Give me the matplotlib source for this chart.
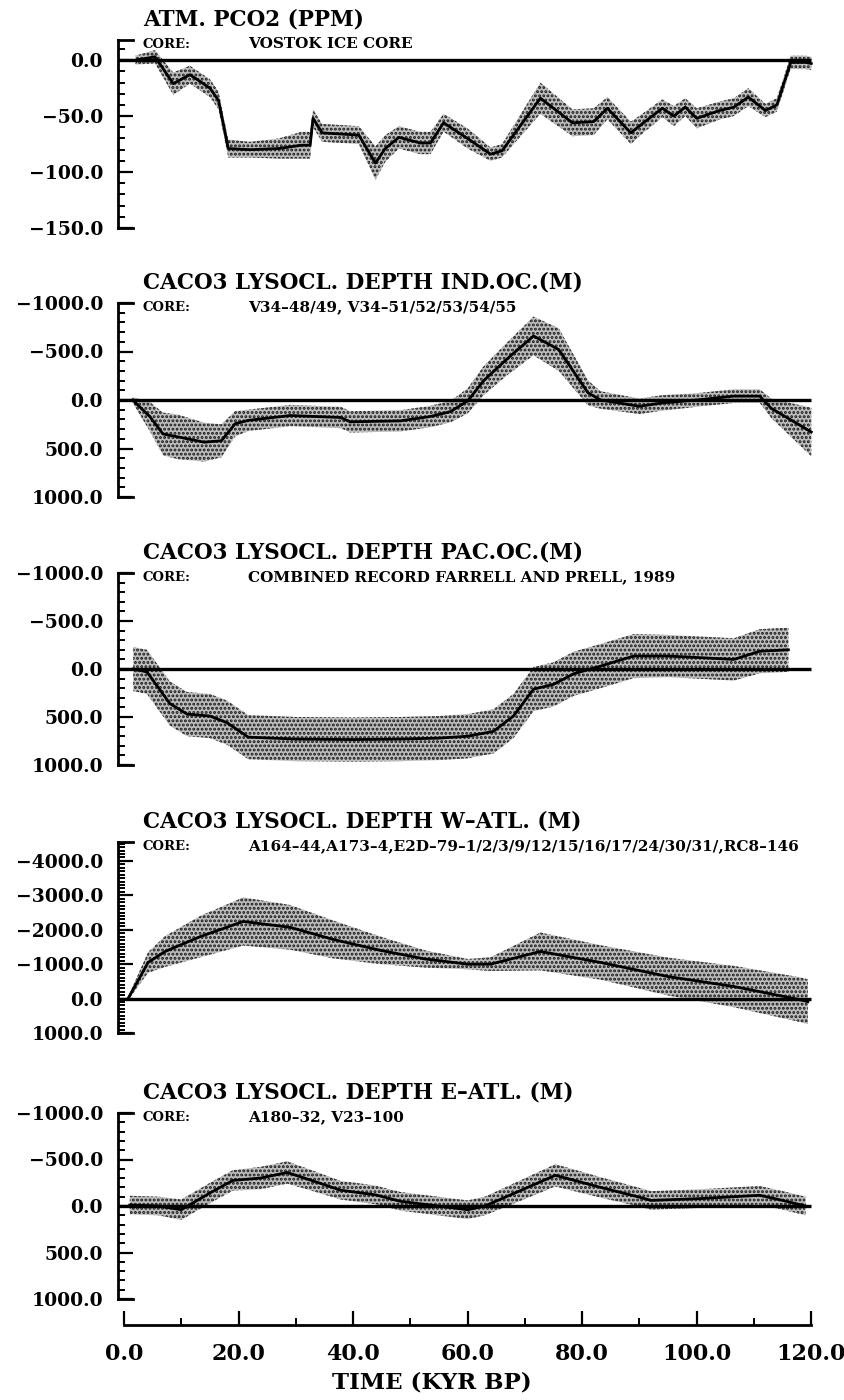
import numpy as np
import matplotlib
matplotlib.use("Agg")
import matplotlib.pyplot as plt
from matplotlib.ticker import MultipleLocator, FuncFormatter

plt.rcParams["font.family"] = ["DejaVu Serif"]
plt.rcParams["hatch.linewidth"] = 1.4

# --- data ----------------------------------------------------------------
# panel 1: atmospheric pCO2 anomaly (ppm)
t_co2 = [2, 5.4, 8.6, 11.5, 15, 16.5, 18.2, 22, 27, 31, 32.5, 33, 34.6, 41, 43.9,
         45.6, 48, 51.7, 53.5, 55.8, 60, 64, 66, 72.7, 78.3, 82, 84.4, 88.5, 90.2,
         94, 96, 98, 100, 104, 106.5, 109, 112, 114, 116.4, 119, 120]
v_co2 = [0, 3, -21, -13, -25, -36, -79, -80, -79, -76, -76, -52, -65, -67, -92,
         -79, -69, -74, -74, -56, -70, -84, -81, -34, -56, -55, -43, -65, -58,
         -43, -50, -42, -52, -45, -42, -33, -45, -40, -2, -2, -3]
e_co2 = [4, 6, 10, 8, 8, 8, 8, 7, 9, 12, 12, 8, 8, 8, 15,
         12, 10, 10, 10, 8, 9, 6, 6, 14, 12, 12, 10, 10, 9,
         8, 9, 8, 9, 8, 8, 8, 6, 6, 6, 6, 6]

# panel 2: lysocline depth, Indian Ocean (m)
t_ind = [1.5, 4.5, 6.8, 9.4, 14, 17, 19.4, 21.7, 29, 37.8, 39.5, 48.3, 53.5, 57,
         60, 62.8, 67, 71.5, 75.9, 81, 83.2, 90, 94, 100, 106.5, 111, 113, 120]
v_ind = [0, 170, 350, 380, 435, 420, 245, 210, 160, 180, 225, 215, 170, 120,
         10, -200, -430, -660, -520, -75, 0, 65, 30, 0, -40, -40, 85, 330]
e_ind = [30, 150, 220, 230, 200, 170, 130, 110, 110, 110, 110, 110, 110, 110,
         130, 150, 170, 200, 220, 130, 90, 80, 80, 70, 70, 70, 100, 250]

# panel 3: lysocline depth, Pacific (m)
t_pac = [1.6, 4, 8, 11, 15, 18, 21.7, 30, 40, 48.3, 55, 60, 64.5, 68, 71.5, 75,
         78.5, 83.2, 89, 95, 100, 106.5, 111, 116]
v_pac = [0, 30, 360, 470, 490, 560, 710, 730, 735, 730, 720, 700, 650, 490, 210,
         160, 50, -30, -135, -135, -120, -100, -185, -200]
e_pac = [230, 230, 230, 230, 230, 230, 230, 230, 230, 230, 230, 230, 230, 230,
         230, 230, 230, 230, 230, 220, 220, 220, 230, 230]

# panel 4: lysocline depth, western Atlantic (m)
t_watl = [0.7, 4.2, 7.2, 13.3, 20.8, 29, 36.5, 44.8, 52.6, 60, 64, 72.7, 83.2,
          95, 106.5, 118, 119.4]
v_watl = [0, -1050, -1370, -1800, -2240, -2070, -1720, -1400, -1150, -1000,
          -1000, -1370, -1050, -640, -350, 30, 90]
e_watl = [50, 300, 450, 600, 700, 650, 550, 400, 250, 150, 200, 550, 500, 550,
          600, 650, 650]

# panel 5: lysocline depth, eastern Atlantic (m)
t_eatl = [1, 6, 10, 15, 19, 23.8, 28.5, 33, 37.8, 43.9, 48.3, 53.5, 60, 63, 69,
          75.3, 83.2, 90, 92, 100.7, 105, 111, 115, 119]
v_eatl = [-10, 0, 40, -140, -275, -300, -360, -270, -170, -120, -50, -10, 40, 0,
          -160, -330, -200, -95, -60, -80, -95, -115, -60, 0]
e_eatl = [100, 100, 110, 110, 110, 120, 120, 110, 100, 100, 100, 100, 100, 100,
          110, 120, 110, 100, 100, 100, 100, 100, 100, 100]

titles = ["ATM. PCO2 (PPM)",
          "CACO3 LYSOCL. DEPTH IND.OC.(M)",
          "CACO3 LYSOCL. DEPTH PAC.OC.(M)",
          "CACO3 LYSOCL. DEPTH W\u2013ATL. (M)",
          "CACO3 LYSOCL. DEPTH E\u2013ATL. (M)"]
cores = ["VOSTOK ICE CORE",
         "V34\u201348/49, V34\u201351/52/53/54/55",
         "COMBINED RECORD FARRELL AND PRELL, 1989",
         "A164\u201344,A173\u20134,E2D\u201379\u20131/2/3/9/12/15/16/17/24/30/31/,RC8\u2013146",
         "A180\u201332, V23\u2013100"]

series = [(t_co2, v_co2, e_co2), (t_ind, v_ind, e_ind), (t_pac, v_pac, e_pac),
          (t_watl, v_watl, e_watl), (t_eatl, v_eatl, e_eatl)]

# layout: (top px, bottom px, ylim, major step, minor step)
W, H = 845, 1400
panels = [
    (40, 228, (-150, 18), 50, 10),
    (303, 497, (1000, -1000), 500, 100),
    (573, 765, (1000, -1000), 500, 100),
    (842, 1033, (1000, -4550), 1000, 100),
    (1113, 1299, (1000, -1000), 500, 100),
]
x0_px, x1_px = 118.3, 817.0
XLIM = (-1, 121)

fmt = FuncFormatter(lambda v, pos: f"{v:.1f}".replace("-", "\u2212"))

fig = plt.figure(figsize=(W / 100, H / 100), dpi=100)


def px_rect(top, bottom):
    return [x0_px / W, 1 - bottom / H, (x1_px - x0_px) / W, (bottom - top) / H]


for (top, bottom, ylim, major, minor), (t, v, e), title, core in zip(
        panels, series, titles, cores):
    ax = fig.add_axes(px_rect(top, bottom))
    t, v, e = np.array(t), np.array(v), np.array(e)
    ax.fill_between(t, v - e, v + e, facecolor="#bdbdbd", edgecolor="#1a1a1a",
                    hatch="....", linewidth=0, zorder=1)
    ax.plot(t, v, color="black", lw=2, zorder=3)
    ax.hlines(0, XLIM[0], 120, color="black", lw=2.4, zorder=2)

    ax.set_xlim(*XLIM)
    ax.set_ylim(*ylim)
    for s in ["top", "right", "bottom"]:
        ax.spines[s].set_visible(False)
    ax.spines["left"].set_linewidth(2)
    ax.set_xticks([])
    ax.yaxis.set_major_locator(MultipleLocator(major))
    ax.yaxis.set_minor_locator(MultipleLocator(minor))
    ax.yaxis.set_major_formatter(fmt)
    ax.tick_params(axis="y", which="major", direction="in", length=11, width=1.6,
                   pad=11, labelsize=13.5)
    ax.tick_params(axis="y", which="minor", direction="in", length=5, width=1.4)
    for lab in ax.get_yticklabels():
        lab.set_fontweight("bold")
    # bracket ends of the axis
    for yy in (0, 1):
        ax.plot([0, 0.021], [yy, yy], transform=ax.transAxes, color="black",
                lw=2, clip_on=False)

    ax.annotate(title, xy=(0, 1), xycoords="axes fraction",
                xytext=((143 - x0_px) * 0.72, 15), textcoords="offset points",
                ha="left", va="center", fontsize=15.5, fontweight="bold")
    ax.annotate("CORE:", xy=(0, 1), xycoords="axes fraction",
                xytext=((143 - x0_px) * 0.72, -3), textcoords="offset points",
                ha="left", va="center", fontsize=9.5, fontweight="bold")
    ax.annotate(core, xy=(0, 1), xycoords="axes fraction",
                xytext=((248 - x0_px) * 0.72, -3), textcoords="offset points",
                ha="left", va="center", fontsize=11, fontweight="bold")

# separate time axis at the bottom
axx = fig.add_axes(px_rect(1300, 1325))
axx.set_xlim(*XLIM)
axx.set_yticks([])
for s in ["top", "right", "left"]:
    axx.spines[s].set_visible(False)
axx.spines["bottom"].set_bounds(0, 120)
axx.spines["bottom"].set_linewidth(2)
axx.patch.set_visible(False)
axx.xaxis.set_major_locator(MultipleLocator(20))
axx.xaxis.set_minor_locator(MultipleLocator(10))
axx.xaxis.set_major_formatter(fmt)
axx.tick_params(axis="x", which="major", direction="in", length=10, width=1.6,
                pad=13, labelsize=16)
axx.tick_params(axis="x", which="minor", direction="in", length=5, width=1.4)
for lab in axx.get_xticklabels():
    lab.set_fontweight("bold")

fig.text(432 / W, 1 - 1382 / H, "TIME (KYR BP)", ha="center", va="center",
         fontsize=16.5, fontweight="bold")

fig.savefig("out.png", dpi=100)
